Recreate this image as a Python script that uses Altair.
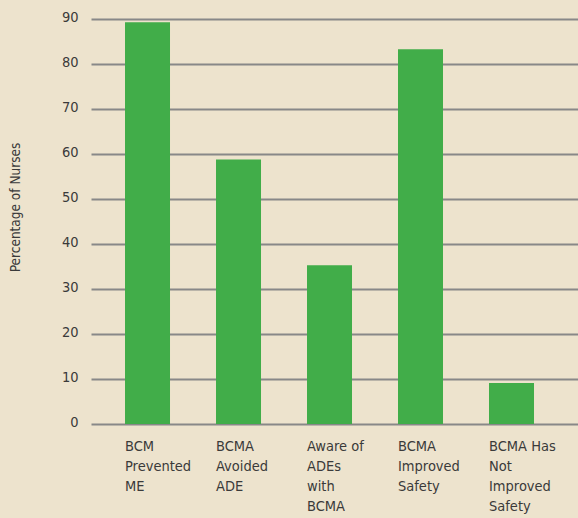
import altair as alt
import pandas as pd

categories = [
    "BCM|Prevented|ME",
    "BCMA|Avoided|ADE",
    "Aware of|ADEs|with|BCMA",
    "BCMA|Improved|Safety",
    "BCMA Has|Not|Improved|Safety",
]
values = [89.3, 58.8, 35.3, 83.3, 9.1]

df = pd.DataFrame({"cat": categories, "val": values})

FONT = "DejaVu Sans Condensed, Roboto Condensed, Roboto, sans-serif"
TXT = "#3a3a3a"

chart = alt.Chart(df).mark_bar(color="#41ad49").encode(
    x=alt.X(
        "cat:N",
        sort=categories,
        scale=alt.Scale(paddingInner=0.5055, paddingOuter=0.4286, align=0.436),
        axis=alt.Axis(
            title=None,
            labelAngle=0,
            labelAlign="left",
            labelBaseline="top",
            labelExpr="split(datum.value, '|')",
            labelLineHeight=20,
            labelPadding=15,
            labelFontSize=14.5,
            labelFont=FONT,
            labelColor=TXT,
            labelOffset=-22.5,
            ticks=False,
            domain=False,
            grid=False,
        ),
    ),
    y=alt.Y(
        "val:Q",
        scale=alt.Scale(domain=[0, 90], nice=False),
        axis=alt.Axis(
            title="Percentage of Nurses",
            titleFont=FONT,
            titleFontSize=13.5,
            titleFontWeight="normal",
            titleColor=TXT,
            titleX=-76,
            titleY=188,
            titleAngle=-90,
            titleAlign="center",
            titleBaseline="middle",
            values=[0, 10, 20, 30, 40, 50, 60, 70, 80, 90],
            labelFont=FONT,
            labelFontSize=14.5,
            labelColor=TXT,
            labelPadding=13,
            labelOffset=-2,
            ticks=False,
            domain=False,
            grid=True,
            gridColor="#888888",
            gridWidth=2,
        ),
    ),
).properties(
    width=487,
    height=405,
    background="#ede3cd",
    autosize=alt.AutoSizeParams(type="none"),
    padding={"left": 91, "top": 19, "right": 0, "bottom": 94},
).configure_view(stroke=None)

chart.save("out.html", embed_options={"renderer": "svg", "actions": False})
